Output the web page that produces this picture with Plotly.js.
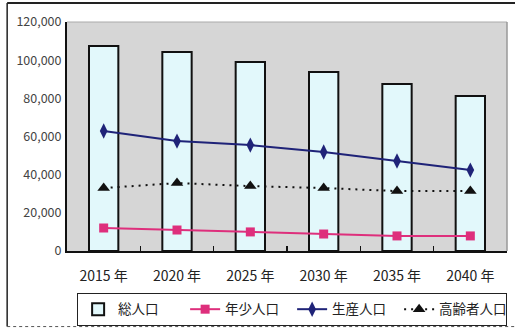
<!DOCTYPE html>
<html>
<head>
<meta charset="utf-8">
<script src="https://cdn.plot.ly/plotly-3.0.1.min.js"></script>
<style>html,body{margin:0;padding:0;background:#fff;}#chart{width:515px;height:328px;}</style>
</head>
<body>
<div id="chart"></div>
<script>
const years = ["2015 年", "2020 年", "2025 年", "2030 年", "2035 年", "2040 年"];
const totalPop = [107400, 104300, 99000, 93800, 87500, 81200];
const youthPop = [12050, 11000, 10000, 8900, 7900, 7900];
const workingPop = [62900, 57600, 55500, 51900, 47200, 42400];
const elderlyPop = [33000, 35600, 34000, 33000, 31400, 31400];
const yTicks = [0, 20000, 40000, 60000, 80000, 100000, 120000];
const yTickText = ["0", "20,000", "40,000", "60,000", "80,000", "100,000", "120,000"];

const font = "'Noto Sans CJK JP', 'Noto Sans', sans-serif";

const traces = [
  {type: 'bar', x: years, y: totalPop, name: '総人口', width: 0.4,
   marker: {color: '#e2f8fb', line: {color: '#111', width: 2}}},
  {type: 'scatter', mode: 'lines+markers', x: years, y: youthPop, name: '年少人口',
   line: {color: '#de2f7c', width: 2}, marker: {symbol: 'square', size: 9, color: '#de2f7c'}},
  {type: 'scatter', mode: 'lines+markers', x: years, y: workingPop, name: '生産人口',
   line: {color: '#1f2378', width: 2}, marker: {symbol: 'diamond-tall', size: 11, color: '#1f2378'}},
  {type: 'scatter', mode: 'lines+markers', x: years, y: elderlyPop, name: '高齢者人口',
   line: {color: '#111', width: 2, dash: '2px,5px'}, marker: {symbol: 'triangle-up', size: 11, color: '#111'}}
];

const layout = {
  width: 515, height: 328,
  margin: {l: 67, r: 8, t: 22, b: 77, pad: 0, autoexpand: false},
  paper_bgcolor: '#ffffff',
  plot_bgcolor: '#d6d6d6',
  font: {family: font, color: '#111'},
  showlegend: true,
  legend: {orientation: 'h', x: 0.023, y: -0.183, xanchor: 'left', yanchor: 'top',
           bgcolor: '#ffffff', bordercolor: '#222', borderwidth: 1,
           font: {family: font, size: 13.5, color: '#222'}, traceorder: 'normal',
           itemwidth: 30, tracegroupgap: 0, entrywidth: 62, entrywidthmode: 'pixels'},
  xaxis: {type: 'category', showgrid: false, zeroline: false, automargin: false,
          showline: true, linecolor: '#111', linewidth: 2, mirror: false,
          ticks: 'inside', tickson: 'boundaries', ticklen: 5, tickcolor: '#111', tickwidth: 1.5,
          ticklabelstandoff: 11,
          tickfont: {family: font, size: 14, color: '#222'}},
  yaxis: {range: [0, 120000], tickvals: yTicks, ticktext: yTickText, automargin: false,
          showgrid: false, zeroline: false, showline: true, linecolor: '#111', linewidth: 2,
          ticks: '', ticklabelstandoff: 1,
          tickfont: {family: font, size: 12.5, color: '#444'}},
  shapes: [
    {type: 'line', xref: 'paper', yref: 'paper', x0: 0, x1: 1, y0: 1, y1: 1, line: {color: '#aaa', width: 1}},
    {type: 'line', xref: 'paper', yref: 'paper', x0: 1, x1: 1, y0: 0, y1: 1, line: {color: '#999', width: 1.5}},
    {type: 'line', xref: 'paper', yref: 'paper', x0: -0.136, x1: 1.02, y0: 1.083, y1: 1.083, line: {color: '#222', width: 2}},
    {type: 'line', xref: 'paper', yref: 'paper', x0: -0.136, x1: -0.136, y0: -0.33, y1: 1.083, line: {color: '#222', width: 1.5}},
    {type: 'line', xref: 'paper', yref: 'paper', x0: -0.136, x1: 1.02, y0: -0.33, y1: -0.33, line: {color: '#555', width: 1, dash: 'dot'}}
  ]
};

Plotly.newPlot('chart', traces, layout, {displayModeBar: false, staticPlot: true});
</script>
</body>
</html>
